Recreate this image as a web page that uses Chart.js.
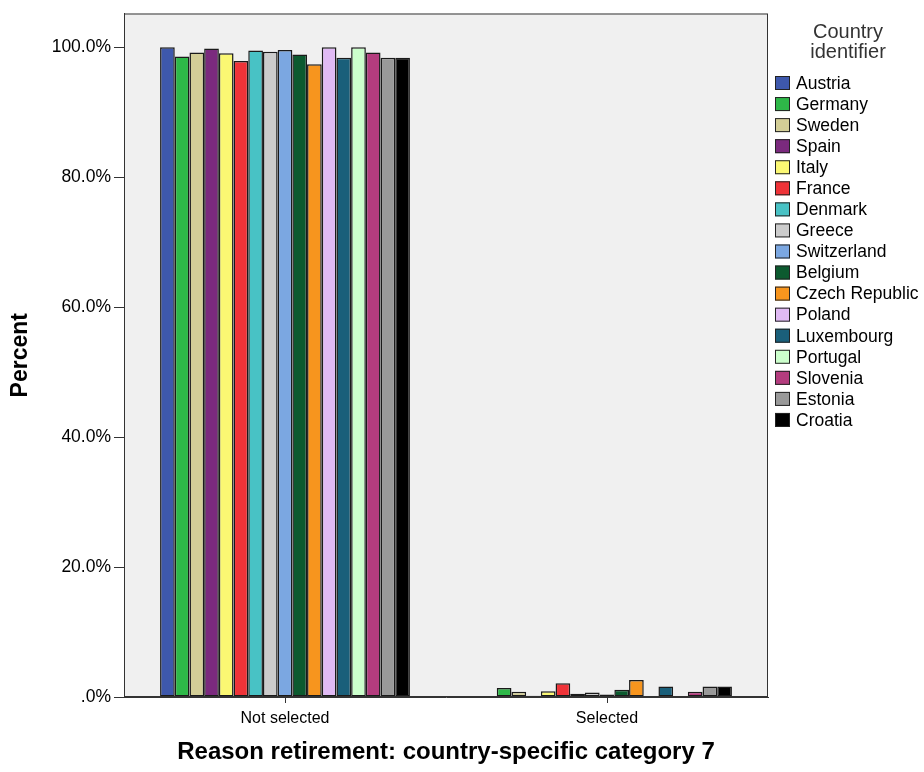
<!DOCTYPE html>
<html>
<head>
<meta charset="utf-8">
<script src="https://cdn.jsdelivr.net/npm/chart.js@4/dist/chart.umd.min.js"></script>
<style>
  body { margin: 0; background: #fff; }
  canvas { display: block; }
</style>
</head>
<body>
<canvas id="chart" width="924" height="772"></canvas>
<script>
const categories = ['Not selected', 'Selected'];
const countries = ['Austria', 'Germany', 'Sweden', 'Spain', 'Italy', 'France', 'Denmark', 'Greece',
  'Switzerland', 'Belgium', 'Czech Republic', 'Poland', 'Luxembourg', 'Portugal', 'Slovenia', 'Estonia', 'Croatia'];
const notSelected = [100.0, 98.6, 99.2, 99.8, 99.1, 97.9, 99.5, 99.3, 99.6, 98.9, 97.4, 100.0, 98.4, 100.0, 99.2, 98.4, 98.4];
const selected = [0, 1.4, 0.8, 0.2, 0.9, 2.1, 0.5, 0.7, 0.4, 1.1, 2.6, 0, 1.6, 0, 0.8, 1.6, 1.6];
const colors = ['#3e58ac', '#2eb848', '#d3ce97', '#7b2a7e', '#fbf873', '#ef3338', '#48c2c5', '#cccccc',
  '#7ba7e1', '#0c5a2f', '#f7951e', '#e0baf4', '#1a5f7a', '#ccffcc', '#b43c7e', '#999999', '#000000'];
const yTicks = [0, 20, 40, 60, 80, 100];
const yTickLabels = ['.0%', '20.0%', '40.0%', '60.0%', '80.0%', '100.0%'];

const FONT = '"Liberation Sans", Arial, sans-serif';

const datasets = countries.map(function(name, i) {
  return {
    label: name,
    data: [notSelected[i], selected[i]],
    backgroundColor: colors[i],
    borderColor: '#1a1a1a',
    borderWidth: 1.5,
    borderSkipped: false,
    categoryPercentage: 0.776,
    barPercentage: 1.0
  };
});

// plot background and frame
const framePlugin = {
  id: 'frame',
  beforeDraw: function(chart) {
    const a = chart.chartArea;
    const ctx = chart.ctx;
    ctx.save();
    ctx.fillStyle = '#f0f0f0';
    ctx.fillRect(a.left, a.top, a.right - a.left, a.bottom - a.top);
    ctx.restore();
  },
  afterDraw: function(chart) {
    const a = chart.chartArea;
    const ctx = chart.ctx;
    ctx.save();
    ctx.strokeStyle = '#333';
    ctx.lineWidth = 1;
    ctx.strokeRect(a.left + 0.5, a.top + 0.5, a.right - a.left - 1, a.bottom - a.top - 1);
    ctx.restore();
  }
};

// legend on the right with a two-line title
const legendPlugin = {
  id: 'sideLegend',
  afterDraw: function(chart) {
    const ctx = chart.ctx;
    ctx.save();
    ctx.font = '20px ' + FONT;
    ctx.fillStyle = '#333';
    ctx.textAlign = 'center';
    ctx.textBaseline = 'middle';
    ctx.fillText('Country', 848, 32);
    ctx.fillText('identifier', 848, 52);
    ctx.textAlign = 'left';
    ctx.font = '17.5px ' + FONT;
    chart.data.datasets.forEach(function(ds, i) {
      const y = 83 + i * 21.06;
      ctx.fillStyle = ds.backgroundColor;
      ctx.fillRect(775, y - 7, 15, 14);
      ctx.strokeStyle = '#222';
      ctx.lineWidth = 1;
      ctx.strokeRect(775.5, y - 6.5, 14, 13);
      ctx.fillStyle = '#000';
      ctx.fillText(ds.label, 796, y + 1);
    });
    ctx.restore();
  }
};

new Chart(document.getElementById('chart'), {
  type: 'bar',
  data: { labels: categories, datasets: datasets },
  plugins: [framePlugin, legendPlugin],
  options: {
    responsive: false,
    animation: false,
    layout: { padding: { top: 10, right: 156, left: 0, bottom: 0 } },
    plugins: {
      legend: { display: false },
      tooltip: { enabled: false }
    },
    scales: {
      x: {
        grid: { drawOnChartArea: false, drawTicks: true, tickLength: 6, color: '#333', offset: false },
        border: { display: true, color: '#333' },
        ticks: { color: '#000', font: { family: FONT, size: 16 }, padding: 6 },
        title: {
          display: true,
          text: 'Reason retirement: country-specific category 7',
          color: '#000',
          font: { family: FONT, size: 24, weight: 'bold' },
          padding: { top: 0, bottom: 5 }
        },
        afterFit: function(scale) { scale.height = 75; }
      },
      y: {
        min: 0,
        max: 105.2,
        afterBuildTicks: function(scale) {
          scale.ticks = yTicks.map(function(v) { return { value: v }; });
        },
        grid: { drawOnChartArea: false, drawTicks: true, tickLength: 10, color: '#333' },
        border: { display: true, color: '#333' },
        ticks: {
          color: '#000',
          font: { family: FONT, size: 17.5 },
          padding: 3,
          callback: function(value) {
            const idx = yTicks.indexOf(value);
            return idx >= 0 ? yTickLabels[idx] : '';
          }
        },
        title: {
          display: true,
          text: 'Percent',
          color: '#000',
          font: { family: FONT, size: 23, weight: 'bold' },
          padding: { top: 7, bottom: 0 }
        },
        afterFit: function(scale) { scale.width = 124; }
      }
    }
  }
});
</script>
</body>
</html>
